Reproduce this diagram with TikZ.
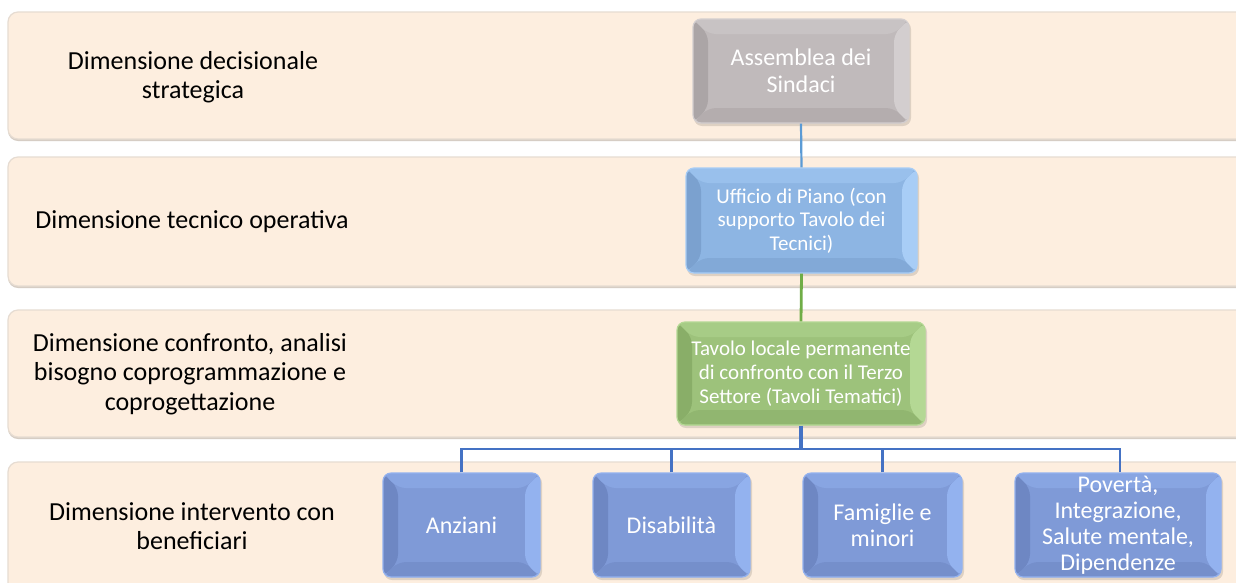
\documentclass[tikz,border=0pt]{standalone}
\usepackage{fontspec}
\setmainfont{Carlito}
\definecolor{bandfill}{HTML}{FDEEDF}
\definecolor{bandline}{HTML}{E6DCD2}
\definecolor{bandshadow}{HTML}{D6CDC4}
\definecolor{grayB}{HTML}{C0BABB}
\definecolor{grayL}{HTML}{D3CECF}
\definecolor{grayD}{HTML}{ABA5A6}
\definecolor{skyB}{HTML}{8DB5E3}
\definecolor{skyL}{HTML}{A8CDF6}
\definecolor{skyD}{HTML}{7BA1CF}
\definecolor{grnB}{HTML}{9DC27B}
\definecolor{grnL}{HTML}{B4D894}
\definecolor{grnD}{HTML}{89AE68}
\definecolor{perB}{HTML}{7F9AD7}
\definecolor{perL}{HTML}{93B2EF}
\definecolor{perD}{HTML}{6E87C3}
\definecolor{lnblue}{HTML}{5B9BD5}
\definecolor{lngreen}{HTML}{70AD47}
\definecolor{lndark}{HTML}{4472C4}
\tikzset{
  band/.style={fill=bandfill, draw=bandline, line width=1.2pt, rounded corners=10pt},
  bandshad/.style={fill=bandshadow, rounded corners=10pt},
  lbl/.style={align=center, font=\fontsize{26}{29.5}\selectfont, text=black},
  bevelbox/.style n args={3}{rectangle, rounded corners=8pt, fill=#1, draw=#2, line width=1.2pt,
    text=white, align=center, inner sep=2pt,
    path picture={
      \fill[#3] (path picture bounding box.north west) -- (path picture bounding box.south west)
        -- ([xshift=15pt,yshift=15pt]path picture bounding box.south west)
        -- ([xshift=15pt,yshift=-15pt]path picture bounding box.north west) -- cycle;
      \fill[#3!60!#1] (path picture bounding box.south west) -- (path picture bounding box.south east)
        -- ([xshift=-15pt,yshift=15pt]path picture bounding box.south east)
        -- ([xshift=15pt,yshift=15pt]path picture bounding box.south west) -- cycle;
      \fill[#2] (path picture bounding box.north east) -- (path picture bounding box.south east)
        -- ([xshift=-15pt,yshift=15pt]path picture bounding box.south east)
        -- ([xshift=-15pt,yshift=-15pt]path picture bounding box.north east) -- cycle;
      \fill[#2!45!#1] (path picture bounding box.north west) -- (path picture bounding box.north east)
        -- ([xshift=-15pt,yshift=-15pt]path picture bounding box.north east)
        -- ([xshift=15pt,yshift=-15pt]path picture bounding box.north west) -- cycle;
    }},
  graybox/.style={bevelbox={grayB}{grayL}{grayD}},
  skybox/.style={bevelbox={skyB}{skyL}{skyD}},
  grnbox/.style={bevelbox={grnB}{grnL}{grnD}},
  perbox/.style={bevelbox={perB}{perL}{perD}, minimum height=104pt, font=\fontsize{24}{26}\selectfont},
  boxshadow/.style={fill=black, opacity=0.12, rounded corners=8pt}
}
\begin{document}
\begin{tikzpicture}[x=1pt,y=-1pt]
\useasboundingbox (0,0) rectangle (1236,582);
\begin{scope}
\clip (0,0) rectangle (1236,582);
\fill[white] (0,0) rectangle (1236,582);
% bands
\fill[bandshad] (8,14) rectangle (1260,141);
\draw[band] (8,12) rectangle (1260,139);
\fill[bandshad] (8,159) rectangle (1260,288);
\draw[band] (8,157) rectangle (1260,286);
\fill[bandshad] (8,312) rectangle (1260,439);
\draw[band] (8,310) rectangle (1260,437);
\fill[bandshad] (8,464) rectangle (1260,600);
\draw[band] (8,462) rectangle (1260,600);
% labels
\node[lbl] (l1) at (193,77) {Dimensione decisionale\\strategica};
\node[lbl] (l2) at (192,222) {Dimensione tecnico operativa};
\node[lbl] (l3) at (190,374) {Dimensione confronto, analisi\\bisogno coprogrammazione e\\coprogettazione};
\node[lbl] (l4) at (192,526) {Dimensione intervento con\\beneficiari};
% box shadows
\fill[boxshadow] (694,21) rectangle (911,126);
\fill[boxshadow] (687,170) rectangle (919,276);
\fill[boxshadow] (678,324) rectangle (927,428);
\fill[boxshadow] (384,475) rectangle (542,580);
\fill[boxshadow] (594,475) rectangle (752,580);
\fill[boxshadow] (804,475) rectangle (964,580);
\fill[boxshadow] (1016,475) rectangle (1223,580);
% connectors (drawn before boxes)
\coordinate (c1) at (801,71);
\coordinate (c2) at (801.5,220.5);
\coordinate (c3) at (801,373.5);
\coordinate (bus) at (801,449);
% boxes
\node[graybox, minimum width=216pt, minimum height=104pt, font=\fontsize{24}{26.5}\selectfont] (asm) at (801,71) {Assemblea dei\\Sindaci};
\node[skybox, minimum width=231pt, minimum height=105pt, font=\fontsize{21}{23.5}\selectfont] (uff) at (801.5,220.5) {Ufficio di Piano (con\\supporto Tavolo dei\\Tecnici)};
\node[grnbox, minimum width=248pt, minimum height=103pt, font=\fontsize{21}{24}\selectfont] (tav) at (801,373.5) {Tavolo locale permanente\\di confronto con il Terzo\\Settore (Tavoli Tematici)};
\node[perbox, minimum width=157pt] (anz) at (461.5,525) {Anziani};
\node[perbox, minimum width=157pt] (dis) at (671.5,525) {Disabilità};
\node[perbox, minimum width=159pt] (fam) at (882.5,525) {Famiglie e\\minori};
\node[perbox, minimum width=206pt] (pov) at (1118,525) {Povertà,\\Integrazione,\\Salute mentale,\\Dipendenze};
% connectors
\draw[lnblue, line width=2.2pt] (asm.south) -- (uff.north);
\draw[lngreen, line width=2.8pt] (uff.south) -- (tav.north);
\draw[lndark, line width=3.6pt] (tav.south) -- (bus);
\draw[lndark, line width=2.2pt] (anz.north) |- (bus);
\draw[lndark, line width=2.2pt] (dis.north) |- (bus);
\draw[lndark, line width=2.2pt] (fam.north) |- (bus);
\draw[lndark, line width=2.2pt] ([xshift=2pt]pov.north) |- (bus);
\end{scope}
\end{tikzpicture}
\end{document}
